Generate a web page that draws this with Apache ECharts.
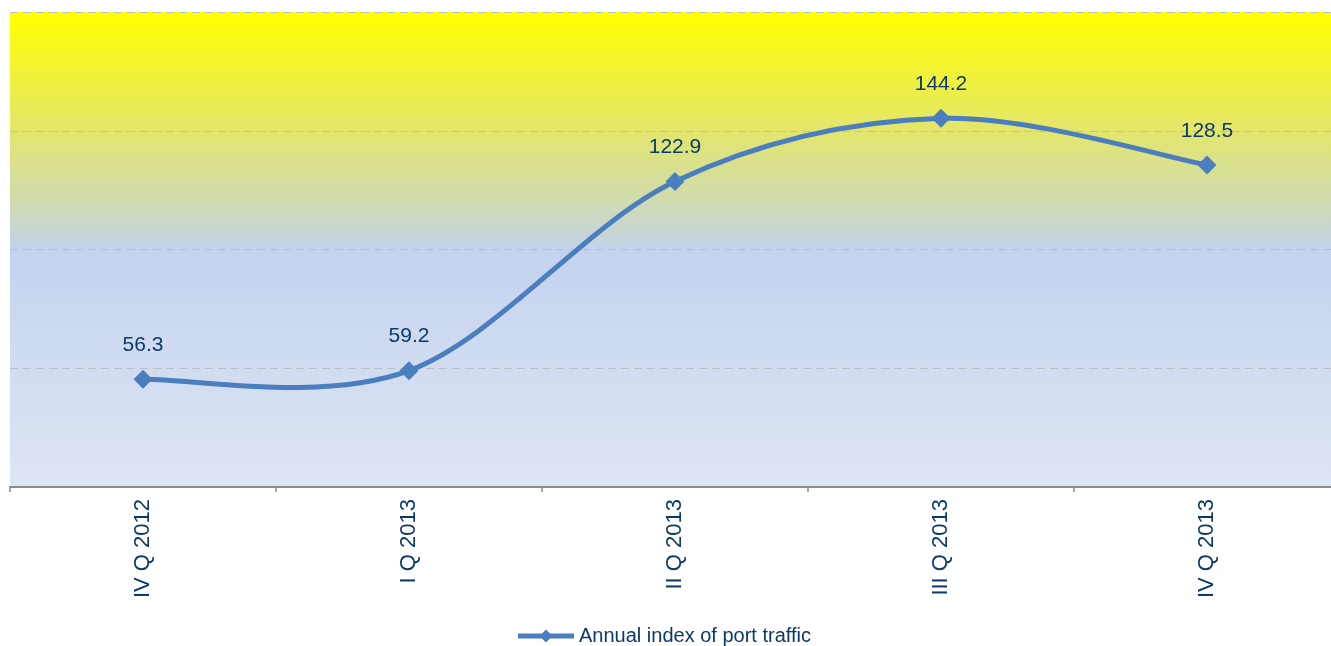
<!DOCTYPE html>
<html>
<head>
<meta charset="utf-8">
<script src="https://cdn.jsdelivr.net/npm/echarts@6/dist/echarts.min.js"></script>
<style>html,body{margin:0;padding:0;background:#fff;overflow:hidden}#c{width:1340px;height:646px}</style>
</head>
<body>
<div id="c"></div>
<script>
const categories = ['IV Q 2012', 'I Q 2013', 'II Q 2013', 'III Q 2013', 'IV Q 2013'];
const values = [56.3, 59.2, 122.9, 144.2, 128.5];
const seriesName = 'Annual index of port traffic';

const LINE_COLOR = '#4A7EBE';
const TEXT_COLOR = '#0B3A6A';

// Excel-like smoothed curve (Catmull-Rom, 1/6 tangents) through the points, positioned via the axis scales
function renderCurve(params, api) {
  if (params.dataIndex !== 0) return null;
  const pts = values.map((v, i) => api.coord([i, v]));
  const n = pts.length;
  let d = 'M' + pts[0][0] + ',' + pts[0][1];
  for (let i = 0; i < n - 1; i++) {
    const p0 = pts[Math.max(i - 1, 0)];
    const p1 = pts[i];
    const p2 = pts[i + 1];
    const p3 = pts[Math.min(i + 2, n - 1)];
    const c1x = p1[0] + (p2[0] - p0[0]) / 6;
    const c1y = p1[1] + (p2[1] - p0[1]) / 6;
    const c2x = p2[0] - (p3[0] - p1[0]) / 6;
    const c2y = p2[1] - (p3[1] - p1[1]) / 6;
    d += ' C' + c1x + ',' + c1y + ' ' + c2x + ',' + c2y + ' ' + p2[0] + ',' + p2[1];
  }
  return {
    type: 'path',
    shape: {pathData: d},
    style: {stroke: LINE_COLOR, lineWidth: 5, fill: null, lineCap: 'round', lineJoin: 'round'}
  };
}

const chart = echarts.init(document.getElementById('c'));
chart.setOption({
  animation: false,
  grid: {
    left: 10, right: 0, top: 12, bottom: 159,
    show: true, borderWidth: 0,
    backgroundColor: new echarts.graphic.LinearGradient(0, 0, 0, 1, [
      {offset: 0, color: '#FFFF00'},
      {offset: 0.25, color: '#E3E66C'},
      {offset: 0.40, color: '#D0DBB0'},
      {offset: 0.49, color: '#C4D3E3'},
      {offset: 0.5, color: '#C3D3EE'},
      {offset: 1, color: '#DEE5F3'}
    ])
  },
  legend: {
    top: 621, left: 513,
    itemWidth: 56, itemHeight: 13,
    data: [{name: seriesName, icon: 'path://M0,4L56,4L56,9L0,9Z M28,0L34.5,6.5L28,13L21.5,6.5Z'}],
    textStyle: {color: TEXT_COLOR, fontFamily: 'Liberation Sans, Arial', fontSize: 20},
    itemGap: 4
  },
  xAxis: {
    type: 'category',
    data: categories,
    boundaryGap: true,
    axisLine: {lineStyle: {color: '#8C8C8C', width: 2}},
    axisTick: {show: true, length: 5, lineStyle: {color: '#8C8C8C', width: 1.5}},
    axisLabel: {rotate: 90, margin: 12, color: TEXT_COLOR, fontFamily: 'Liberation Sans, Arial', fontSize: 22}
  },
  yAxis: {
    type: 'value', min: 20, max: 180, interval: 40,
    axisLabel: {show: false},
    axisLine: {show: false},
    axisTick: {show: false},
    splitLine: {show: true, lineStyle: {color: '#BDBDC8', type: [8, 5], width: 1}}
  },
  series: [{
    name: 'curve',
    type: 'custom',
    z: 2,
    silent: true,
    data: values.map((v, i) => [i, v]),
    encode: {x: 0, y: 1},
    renderItem: renderCurve
  }, {
    name: seriesName,
    type: 'line',
    z: 3,
    data: values,
    symbol: 'diamond',
    symbolSize: 19,
    lineStyle: {width: 0, opacity: 0},
    itemStyle: {color: LINE_COLOR},
    label: {
      show: true, position: 'top', distance: 14,
      color: TEXT_COLOR, fontFamily: 'Liberation Sans, Arial', fontSize: 21
    }
  }]
});
</script>
</body>
</html>
